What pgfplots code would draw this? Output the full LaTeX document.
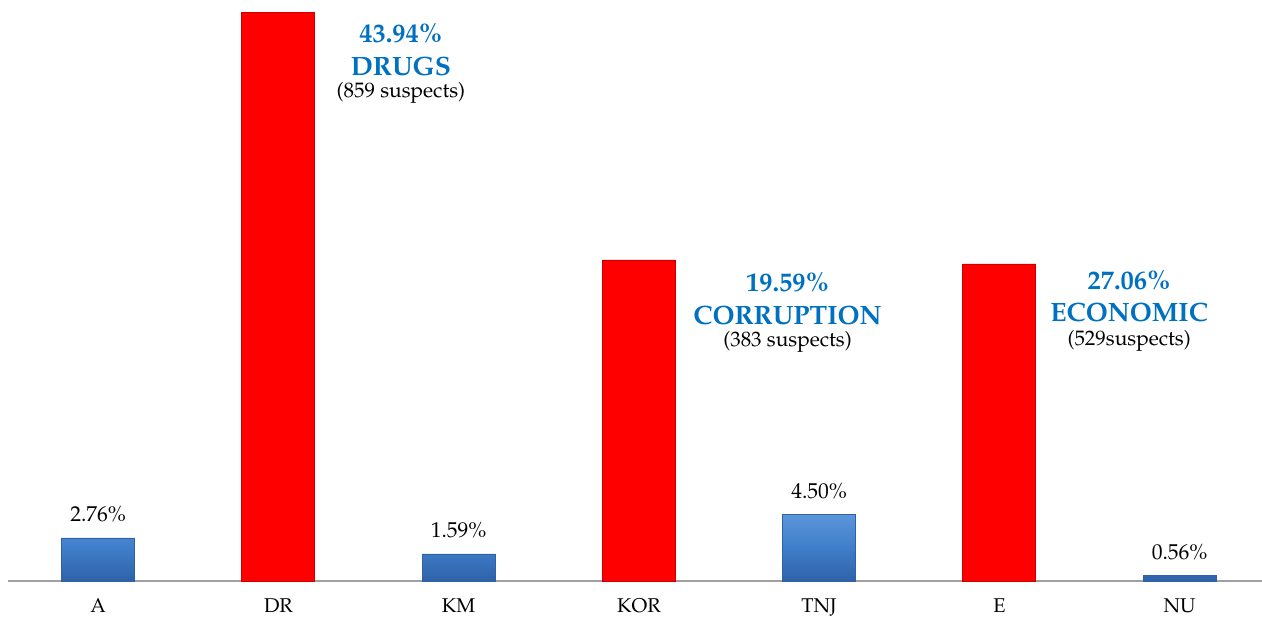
\documentclass[border=0pt]{standalone}
\usepackage[T1]{fontenc}
\renewcommand{\rmdefault}{ppl}
\usepackage{pgfplots}
\pgfplotsset{compat=1.18}

\definecolor{lblue}{RGB}{0,112,192}
\definecolor{bartop}{RGB}{92,150,218}
\definecolor{barmid}{RGB}{64,126,202}
\definecolor{barbot}{RGB}{46,98,168}
\definecolor{baseline}{RGB}{160,160,160}

\begin{document}
\begin{tikzpicture}
\begin{axis}[
    name=ax,
    scale only axis,
    width=627bp, height=290.3bp,
    xmin=-0.5, xmax=6.457,
    ymin=0, ymax=44.9,
    axis y line=none,
    axis x line*=bottom,
    axis line style={draw=baseline, line width=1.2pt},
    every outer x axis line/.append style={draw=baseline},
    xtick={0,...,6},
    xticklabels={A,DR,KM,KOR,TNJ,E,NU},
    xtick style={draw=none},
    xticklabel style={anchor=base, yshift=-11.5bp, inner sep=0pt, font=\fontsize{10}{12}\selectfont},
    ybar, bar width=36.5bp, bar shift=0pt,
    clip=false,
]
% blue bars (heights as drawn)
\addplot[draw=barbot, line width=0.4pt, top color=bartop, bottom color=barbot, middle color=barmid,
    point meta=explicit symbolic,
    nodes near coords,
    every node near coord/.append style={anchor=base, yshift=8bp, inner sep=0pt, text=black, font=\fontsize{10.8}{12}\selectfont}]
  coordinates {(0,3.33) [2.76\%] (2,2.09) [1.59\%] (4,5.18) [4.50\%] (6,0.46) [0.56\%]};
% red bars (heights as drawn)
\addplot[draw=red!80!black, line width=0.4pt, fill=red]
  coordinates {(1,44.0) (3,24.83) (5,24.52)};

\begin{scope}[every node/.style={anchor=base, inner sep=0pt}]
\node[text=lblue, font=\bfseries\fontsize{13.3}{15}\selectfont] at (axis cs:1.68,41.61) {43.94\%};
\node[text=lblue, font=\bfseries\fontsize{13.3}{15}\selectfont] at (axis cs:1.68,39.13) {DRUGS};
\node[font=\fontsize{10.5}{12}\selectfont] at (axis cs:1.68,37.36) {(859 suspects)};

\node[text=lblue, font=\bfseries\fontsize{13.3}{15}\selectfont] at (axis cs:3.825,22.35) {19.59\%};
\node[text=lblue, font=\bfseries\fontsize{13.3}{15}\selectfont] at (axis cs:3.825,19.80) {CORRUPTION};
\node[font=\fontsize{10.5}{12}\selectfont] at (axis cs:3.825,18.10) {(383 suspects)};

\node[text=lblue, font=\bfseries\fontsize{13.3}{15}\selectfont] at (axis cs:5.72,22.51) {27.06\%};
\node[text=lblue, font=\bfseries\fontsize{13.3}{15}\selectfont] at (axis cs:5.72,20.03) {ECONOMIC};
\node[font=\fontsize{10.5}{12}\selectfont] at (axis cs:5.72,18.25) {(529suspects)};
\end{scope}
\end{axis}
\pgfresetboundingbox
\path[use as bounding box] ([xshift=-4bp,yshift=-18bp]ax.south west) rectangle ([yshift=0.2bp]ax.north east);
\end{tikzpicture}
\end{document}
